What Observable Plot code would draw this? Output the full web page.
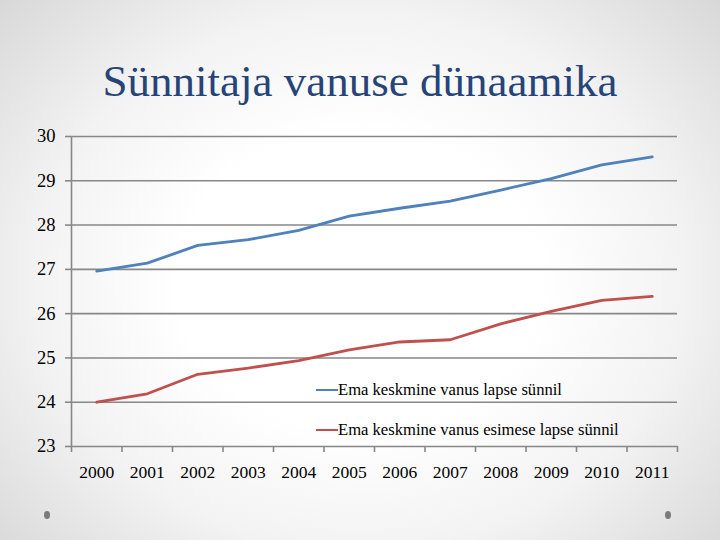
<!DOCTYPE html>
<html>
<head>
<meta charset="utf-8">
<script src="https://cdn.jsdelivr.net/npm/d3@7"></script>
<script src="https://cdn.jsdelivr.net/npm/@observablehq/plot@0.6"></script>
<style>
  html, body { margin: 0; padding: 0; }
  body { width: 720px; height: 540px; overflow: hidden; }
  #slide {
    position: relative; width: 720px; height: 540px;
    background: radial-gradient(ellipse 72% 80% at 50% 52%, #ffffff 35%, #f3f3f3 62%, #d4d4d4 100%);
    font-family: "Liberation Serif", "DejaVu Serif", serif;
  }
  #title {
    position: absolute; left: 0; top: 59px; width: 720px; text-align: center;
    font-size: 45px; line-height: 45px; color: #264478;
  }
  #chart { position: absolute; left: 0; top: 110px; }
  #chart svg, #chart svg text { font-family: "Liberation Serif", "DejaVu Serif", serif !important; }
  #legend { position: absolute; left: 316px; top: 380px; font-size: 16.6px; color: #000; }
  .row { position: absolute; left: 0; white-space: nowrap; height: 20px; line-height: 20px; }
  .row span.sw { display: inline-block; width: 22px; height: 2px; vertical-align: middle; position: relative; top: -1px; }
  .dot { position: absolute; width: 6px; height: 8px; border-radius: 50%; background: #7a7a7a; }
</style>
</head>
<body>
<div id="slide">
  <div id="title"></div>
  <div id="chart"></div>
  <div id="legend"></div>
  <div class="dot" style="left:44px; top:511px;"></div>
  <div class="dot" style="left:665px; top:511px;"></div>
</div>
<script>
const titleText = "Sünnitaja vanuse dünaamika";
const years = [2000, 2001, 2002, 2003, 2004, 2005, 2006, 2007, 2008, 2009, 2010, 2011];
const avgAll = [26.96, 27.14, 27.54, 27.67, 27.88, 28.20, 28.38, 28.54, 28.79, 29.05, 29.36, 29.54];
const avgFirst = [24.00, 24.19, 24.63, 24.77, 24.94, 25.18, 25.36, 25.41, 25.77, 26.05, 26.30, 26.39];
const yTicks = [23, 24, 25, 26, 27, 28, 29, 30];
const seriesNames = ["Ema keskmine vanus lapse sünnil", "Ema keskmine vanus esimese lapse sünnil"];
const seriesColors = ["#4F81BD", "#C0504D"];
const xBounds = years.map(y => y - 0.5).concat([years[years.length - 1] + 0.5]);

document.getElementById("title").textContent = titleText;

const gray = "#878787";
const serif = "Liberation Serif";
const chart = Plot.plot({
  width: 720,
  height: 430,
  marginLeft: 71,
  marginRight: 43,
  marginTop: 26,
  marginBottom: 94,
  x: { domain: [xBounds[0], xBounds[xBounds.length - 1]] },
  y: { domain: [23, 30] },
  style: { background: "transparent", fontFamily: serif, fontSize: "18px", color: "#000", overflow: "visible" },
  marks: [
    Plot.ruleY(yTicks, { stroke: gray, strokeWidth: 1.6 }),
    Plot.axisY({ ticks: yTicks, tickSize: 6, tickPadding: 10, stroke: gray, strokeWidth: 1.6, strokeOpacity: 1, label: null, fontSize: 18.5, fontFamily: serif, fill: "#000", tickFormat: d => String(d) }),
    Plot.ruleX([xBounds[0]], { stroke: gray, strokeWidth: 1.6 }),
    Plot.axisX({ ticks: xBounds, tickSize: 6, stroke: gray, strokeWidth: 1.6, strokeOpacity: 1, tickFormat: () => "", label: null }),
    Plot.axisX({ ticks: years, tickSize: 0, tickPadding: 19, tickFormat: d => String(d), label: null, fontSize: 17.5, fontFamily: serif, fill: "#000" }),
    Plot.lineY(avgAll, { x: years, stroke: seriesColors[0], strokeWidth: 2.8 }),
    Plot.lineY(avgFirst, { x: years, stroke: seriesColors[1], strokeWidth: 2.8 })
  ]
});
document.getElementById("chart").appendChild(chart);

const legend = document.getElementById("legend");
seriesNames.forEach((name, i) => {
  const row = document.createElement("div");
  row.className = "row";
  row.style.top = (i * 40) + "px";
  const sw = document.createElement("span");
  sw.className = "sw";
  sw.style.background = seriesColors[i];
  row.appendChild(sw);
  row.appendChild(document.createTextNode(name));
  legend.appendChild(row);
});
</script>
</body>
</html>
